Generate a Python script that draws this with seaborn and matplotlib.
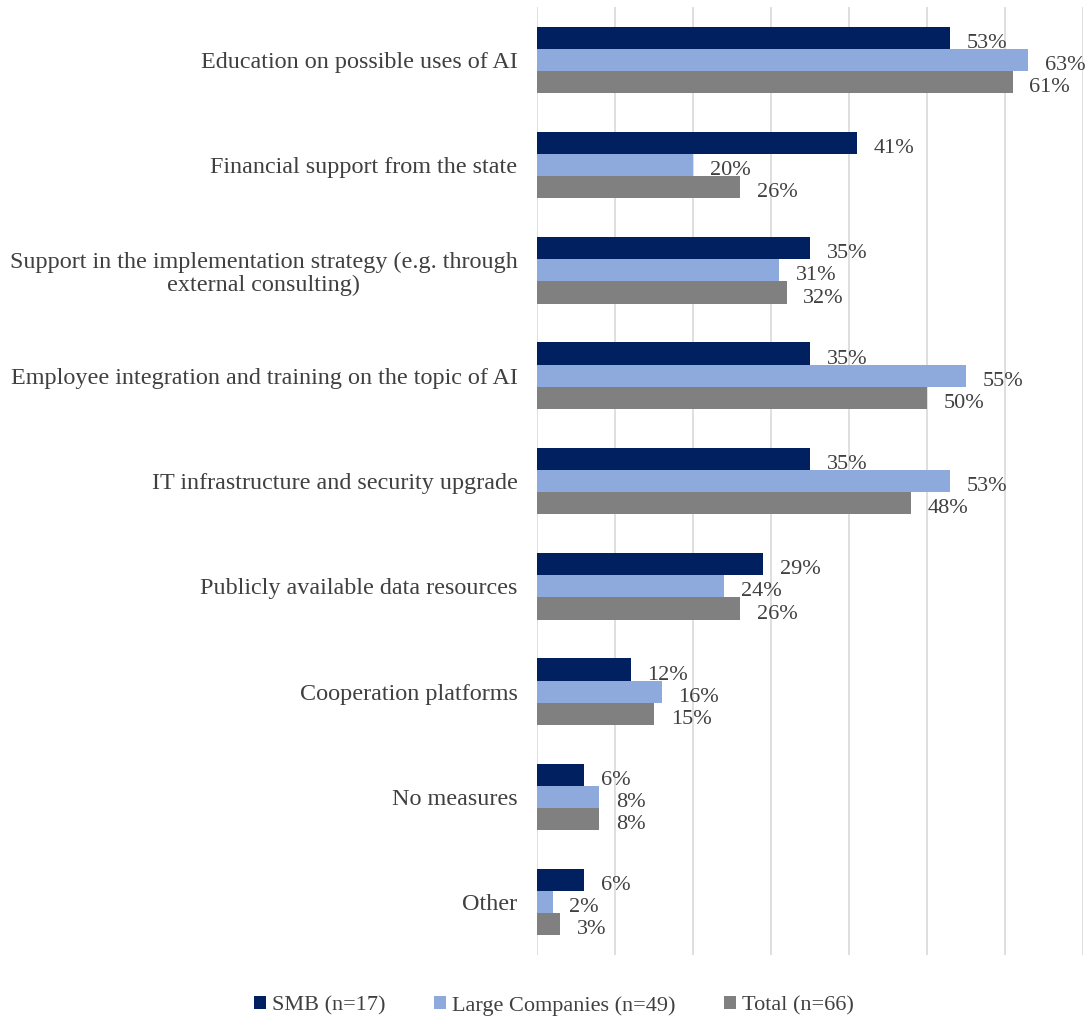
import matplotlib
matplotlib.use("Agg")
import matplotlib.pyplot as plt
import seaborn as sns
import pandas as pd
from matplotlib.patches import Patch

categories = [
    "Education on possible uses of AI",
    "Financial support from the state",
    "Support in the implementation strategy (e.g. through\nexternal consulting)",
    "Employee integration and training on the topic of AI",
    "IT infrastructure and security upgrade",
    "Publicly available data resources",
    "Cooperation platforms",
    "No measures",
    "Other",
]
series = ["SMB (n=17)", "Large Companies (n=49)", "Total (n=66)"]
smb = [53, 41, 35, 35, 35, 29, 12, 6, 6]
large = [63, 20, 31, 55, 53, 24, 16, 8, 2]
total = [61, 26, 32, 50, 48, 26, 15, 8, 3]
colors = ["#002060", "#8EA9DB", "#808080"]

rows = []
for s, vals in zip(series, [smb, large, total]):
    for c, v in zip(categories, vals):
        rows.append({"category": c, "series": s, "value": v})
df = pd.DataFrame(rows)

sns.set_theme(style="white")
plt.rcParams["font.family"] = ["Liberation Serif", "DejaVu Serif"]

fig = plt.figure(figsize=(10.9, 10.18), dpi=100)
ax = fig.add_axes([0.4927, 0.0619, 0.5009, 0.9312])

sns.barplot(data=df, y="category", x="value", hue="series", order=categories,
            hue_order=series, palette=colors, orient="h", width=0.63, gap=0,
            saturation=1, ax=ax, legend=False, linewidth=0)

for cont in ax.containers:
    texts = ax.bar_label(cont, labels=[f"{int(v)}%" for v in cont.datavalues],
                         padding=12, fontsize=16, color="#404040")
    for t in texts:
        t.xyann = (12, -4)

ax.set_xlim(0, 70)
ax.set_ylim(len(categories) - 0.5, -0.5)
ax.set_xticks(range(0, 71, 10))
ax.xaxis.grid(True, color="#D9D9D9", linewidth=1.2)
ax.set_axisbelow(True)
ax.tick_params(axis="x", labelbottom=False, length=0)
ax.tick_params(axis="y", length=0, pad=14, labelsize=17.4, labelcolor="#404040")
for lbl in ax.get_yticklabels():
    lbl.set_multialignment("center")
    lbl.set_linespacing(1.1)
ax.set_xlabel("")
ax.set_ylabel("")
for sp in ax.spines.values():
    sp.set_visible(False)

handles = [Patch(facecolor=c, edgecolor="none", label=s) for c, s in zip(colors, series)]
fig.legend(handles=handles, loc="center", bbox_to_anchor=(0.508, 0.012), ncol=3,
           frameon=False, fontsize=16, handlelength=0.55, handleheight=0.55,
           handletextpad=0.25, columnspacing=2.2, labelcolor="#404040")

fig.savefig("out.png", dpi=100)
